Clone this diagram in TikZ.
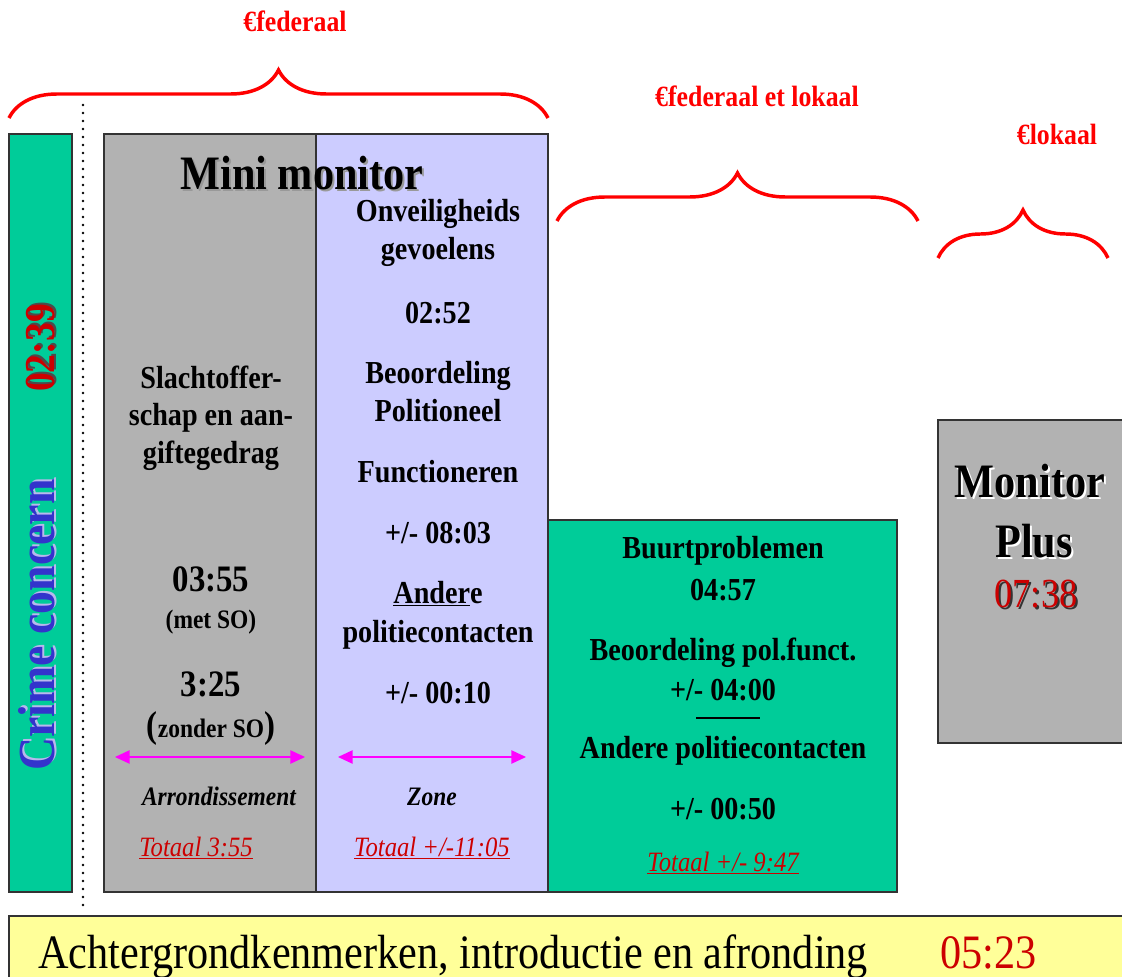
\documentclass[tikz,border=0pt]{standalone}
\usepackage{fontspec}
\setmainfont{Liberation Serif}[FakeStretch=0.88]
\usepackage{tikz}
\usepackage{xcolor}
\usetikzlibrary{arrows.meta, positioning, decorations.pathreplacing}
\definecolor{boxgreen}{HTML}{00CC99}
\definecolor{boxgray}{HTML}{B2B2B2}
\definecolor{boxlilac}{HTML}{CCCCFF}
\definecolor{boxyellow}{HTML}{FFFF99}
\definecolor{timered}{HTML}{CC0000}
\definecolor{bracered}{HTML}{FF0000}
\definecolor{crimeblue}{HTML}{3333CC}
\definecolor{arrowmag}{HTML}{FF00FF}
\definecolor{edgegray}{HTML}{333333}
\newcommand{\shad}[2]{\rlap{\hspace{1.5pt}\raisebox{-1.5pt}{\color{#1}#2}}#2}

\begin{document}
\begin{tikzpicture}[x=0.75pt, y=-0.75pt,
            box/.style={draw=edgegray, line width=0.9pt},
            lbl/.style={font=\bfseries\fontsize{24}{28}\selectfont, anchor=base, inner sep=0pt},
            lblbig/.style={font=\bfseries\fontsize{28}{32}\selectfont, anchor=base, inner sep=0pt},
            lblsmall/.style={font=\bfseries\fontsize{20}{24}\selectfont, anchor=base, inner sep=0pt},
            region/.style={font=\bfseries\itshape\fontsize{20}{24}\selectfont, anchor=base, inner sep=0pt},
            totaal/.style={font=\itshape\fontsize{21}{25}\selectfont, text=timered, anchor=base, inner sep=0pt},
            fund/.style={font=\bfseries\fontsize{22}{26}\selectfont, text=bracered, anchor=base, inner sep=0pt},
            curly/.style={draw=bracered, line width=2.6pt, decorate, decoration={brace, amplitude=36pt}},
            spanarrow/.style={draw=arrowmag, line width=1.1pt, {Triangle[length=11pt, width=10pt]}-{Triangle[length=11pt, width=10pt]}}]
            \useasboundingbox (0,0) rectangle (1122,977);
            \path[box, fill=boxgreen] (9,134) rectangle (72,892);
            \path[box, fill=boxgray] (104,134) rectangle (316,892);
            \path[box, fill=boxlilac] (316,134) rectangle (548,892);
            \path[box, fill=boxgreen] (548,520) rectangle (897,892);
            \path[box, fill=boxgray] (938,420) rectangle (1130,743);
            \path[box, fill=boxyellow] (9,916) rectangle (1130,990);
            \coordinate (dotTop) at (83,105);
            \coordinate (dotBot) at (83,905);
            \draw[line width=2.2pt, line cap=round, dash pattern=on 0pt off 6pt] (dotTop) -- (dotBot);
            \coordinate (fedL) at (9,118);
            \coordinate (fedR) at (548,118);
            \coordinate (mixL) at (557,221);
            \coordinate (mixR) at (918,221);
            \coordinate (lokL) at (938,258);
            \coordinate (lokR) at (1108,258);
            \draw[curly] (fedL) -- (fedR);
            \draw[curly] (mixL) -- (mixR);
            \draw[curly] (lokL) -- (lokR);
            \node[fund] (fed) at (295,32) {€federaal};
            \node[fund] (mix) at (757,107) {€federaal et lokaal};
            \node[fund] (lok) at (1057,145) {€lokaal};
            \node[anchor=base, inner sep=0pt, rotate=90, font=\bfseries\fontsize{39}{44}\selectfont, text=crimeblue] (crime) at (55,625) {\shad{crimeblue!35!white}{Crime concern}};
            \node[anchor=base, inner sep=0pt, rotate=90, font=\bfseries\fontsize{32}{36}\selectfont, text=timered] (crimeT) at (55,348) {\shad{black!70}{02:39}};
            \node[anchor=base, inner sep=0pt, font=\bfseries\fontsize{36}{40}\selectfont] (mini) at (302,190) {\shad{black!40}{Mini monitor}};
            \foreach \y/\t [count=\k] in {388/Slachtoffer-, 425/schap en aan-, 463/giftegedrag} {
                \node[lbl] (arr\k) at (211,\y) {\t};
            }
            \node[lblbig] (arrMet) at (211,591) {03:55};
            \node[lblsmall] (arrMetSO) at (211,628) {(met SO)};
            \node[lblbig] (arrZon) at (211,696) {3:25};
            \node[lblsmall] (arrZonSO) at (211,737) {{\fontsize{28}{32}\selectfont(}zonder SO{\fontsize{28}{32}\selectfont)}};
            \foreach \y/\t [count=\k] in {222/Onveiligheids, 260/gevoelens, 324/02:52, 383/Beoordeling, 421/Politioneel, 482/Functioneren, 543/{+/- 08:03}, 603/\underline{Ander}e, 642/politiecontacten, 703/{+/- 00:10}} {
                \node[lbl] (zone\k) at (438,\y) {\t};
            }
            \foreach \y/\t [count=\k] in {558/Buurtproblemen, 600/04:57, 660/Beoordeling pol.funct., 700/{+/- 04:00}, 758/Andere politiecontacten, 819/{+/- 00:50}} {
                \node[lbl] (buurt\k) at (723,\y) {\t};
            }
            \coordinate (sepL) at (696,718);
            \coordinate (sepR) at (760,718);
            \draw[line width=1.1pt] (sepL) -- (sepR);
            \coordinate (arrL) at (115,757);
            \coordinate (arrR) at (305,757);
            \coordinate (zoneL) at (338,757);
            \coordinate (zoneR) at (526,757);
            \draw[spanarrow] (arrL) -- (arrR);
            \draw[spanarrow] (zoneL) -- (zoneR);
            \node[region] (arrName) at (219,805) {Arrondissement};
            \node[region] (zoneName) at (432,805) {Zone};
            \node[totaal] (arrTot) at (196,856) {\underline{Totaal 3:55}};
            \node[totaal] (zoneTot) at (432,856) {\underline{Totaal +/-11:05}};
            \node[totaal] (buurtTot) at (723,871) {\underline{Totaal +/- 9:47}};
            \node[anchor=base, inner sep=0pt, font=\bfseries\fontsize{36}{40}\selectfont] (plus1) at (1030,497) {\shad{white}{Monitor}};
            \node[anchor=base, inner sep=0pt, font=\bfseries\fontsize{36}{40}\selectfont] (plus2) at (1034,557) {\shad{white}{Plus}};
            \node[anchor=base, inner sep=0pt, font=\fontsize{31}{35}\selectfont, text=timered] (plusT) at (1036,607) {\shad{black!80}{07:38}};
            \node[anchor=base west, inner sep=0pt, font=\fontsize{36}{40}\selectfont] (achter) at (38,968) {Achtergrondkenmerken, introductie en afronding};
            \node[anchor=base west, inner sep=0pt, font=\fontsize{36}{40}\selectfont, text=timered] (achterT) at (940,968) {05:23};
        \end{tikzpicture}
\end{document}
